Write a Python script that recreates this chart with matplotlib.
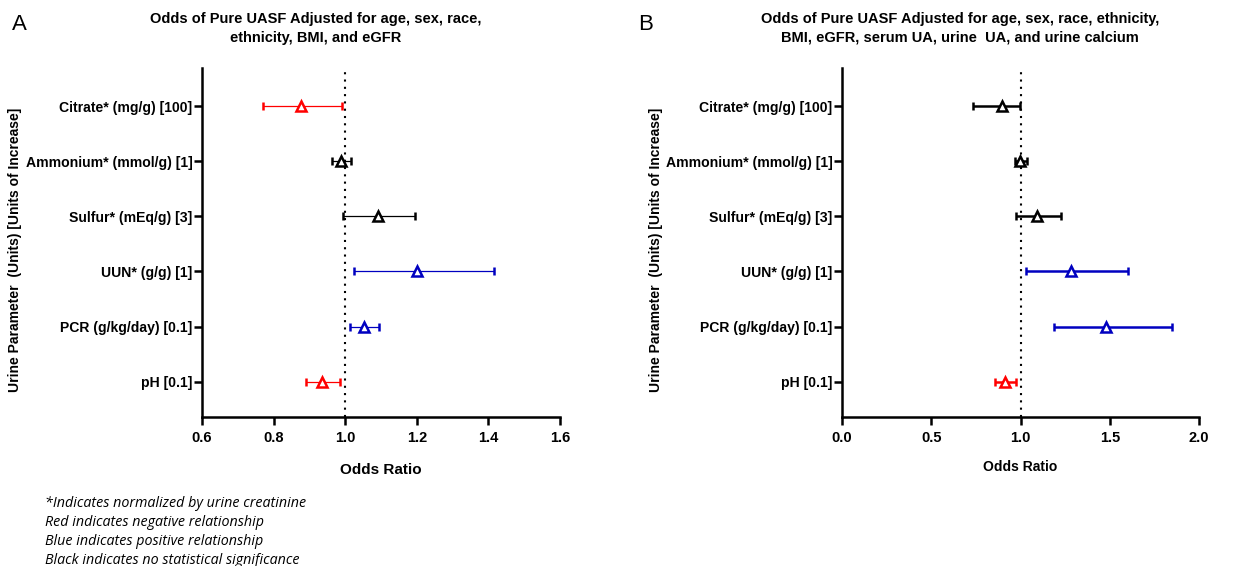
import numpy as np
from matplotlib import pyplot as plt

plt.rcParams['font.family'] = ['Liberation Sans', 'DejaVu Sans']

params = ["Citrate* (mg/g) [100]", "Ammonium* (mmol/g) [1]", "Sulfur* (mEq/g) [3]",
          "UUN* (g/g) [1]", "PCR (g/kg/day) [0.1]", "pH [0.1]"]

# panel A: odds ratio and 95% CI
or_a = [0.875, 0.989, 1.091, 1.201, 1.053, 0.936]
lo_a = [0.771, 0.964, 0.995, 1.023, 1.014, 0.889]
hi_a = [0.990, 1.017, 1.194, 1.414, 1.095, 0.986]
col_a = ['red', 'black', 'black', 'blue', 'blue', 'red']

# panel B
or_b = [0.898, 0.997, 1.091, 1.285, 1.479, 0.915]
lo_b = [0.732, 0.968, 0.974, 1.031, 1.188, 0.855]
hi_b = [0.997, 1.036, 1.227, 1.602, 1.849, 0.977]
col_b = ['black', 'black', 'black', 'blue', 'blue', 'red']

colmap = {'red': '#ff0000', 'blue': '#0000c0', 'black': '#000000'}

title_a = "Odds of Pure UASF Adjusted for age, sex, race,\nethnicity, BMI, and eGFR"
title_b = "Odds of Pure UASF Adjusted for age, sex, race, ethnicity,\nBMI, eGFR, serum UA, urine  UA, and urine calcium"
ylab = "Urine Parameter  (Units) [Units of Increase]"
notes = ["*Indicates normalized by urine creatinine",
         "Red indicates negative relationship",
         "Blue indicates positive relationship",
         "Black indicates no statistical significance"]


def forest(ax, ors, lo, hi, cols, xlim, xticks, lw, cap, xlab_size, xlab_pad):
    y = np.arange(len(params))
    ax.axvline(1.0, color='black', linestyle=(0, (1, 2.5)), linewidth=1.5, zorder=1)
    for i in range(len(params)):
        c = colmap[cols[i]]
        ax.errorbar(ors[i], y[i], xerr=[[ors[i] - lo[i]], [hi[i] - ors[i]]],
                    fmt='^', color=c, ecolor=c, elinewidth=lw, capsize=cap, capthick=lw,
                    markersize=6.5, markerfacecolor='white', markeredgecolor=c,
                    markeredgewidth=1.8, zorder=3)
    ax.set_ylim(5.64, -0.69)
    ax.set_yticks(y)
    ax.set_yticklabels(params, fontweight='bold', fontsize=10.1)
    ax.set_xlim(*xlim)
    ax.set_xticks(xticks)
    ax.set_xticklabels([f"{t:.1f}" for t in xticks], fontweight='bold', fontsize=10.5)
    ax.set_xlabel("Odds Ratio", fontweight='bold', fontsize=xlab_size, labelpad=xlab_pad)
    for s in ['top', 'right']:
        ax.spines[s].set_visible(False)
    for s in ['left', 'bottom']:
        ax.spines[s].set_linewidth(1.8)
    ax.tick_params(axis='both', width=1.8, length=6)
    ax.tick_params(axis='y', pad=1)
    ax.tick_params(axis='x', pad=4)


fig = plt.figure(figsize=(12.55, 5.66), dpi=100)
ax1 = fig.add_axes([0.161, 0.2633, 0.2853, 0.6166])
ax2 = fig.add_axes([0.6709, 0.2633, 0.2845, 0.6166])

forest(ax1, or_a, lo_a, hi_a, col_a, (0.6, 1.6), [0.6, 0.8, 1.0, 1.2, 1.4, 1.6],
       0.9, 2.8, 11, 13)
forest(ax2, or_b, lo_b, hi_b, col_b, (0.0, 2.0), [0.0, 0.5, 1.0, 1.5, 2.0],
       1.8, 3.0, 10, 11)

for xc in (15, 656):
    fig.text(xc / 1255, 1 - 250 / 566, ylab, rotation=90, ha='center', va='center',
             fontweight='bold', fontsize=10)

fig.text(316 / 1255, 1 - 12 / 566, title_a, ha='center', va='top', fontweight='bold',
         fontsize=10.5, linespacing=1.45)
fig.text(960 / 1255, 1 - 12 / 566, title_b, ha='center', va='top', fontweight='bold',
         fontsize=10.5, linespacing=1.45)
fig.text(12 / 1255, 1 - 14 / 566, "A", ha='left', va='top', fontsize=16)
fig.text(638 / 1255, 1 - 14 / 566, "B", ha='left', va='top', fontsize=16)

for k, line in enumerate(notes):
    fig.text(45 / 1255, 1 - (507 + 19 * k) / 566, line, ha='left', va='baseline',
             fontstyle='italic', fontsize=10.3, family=['Open Sans', 'DejaVu Sans'])

fig.savefig("out.png", dpi=100)
